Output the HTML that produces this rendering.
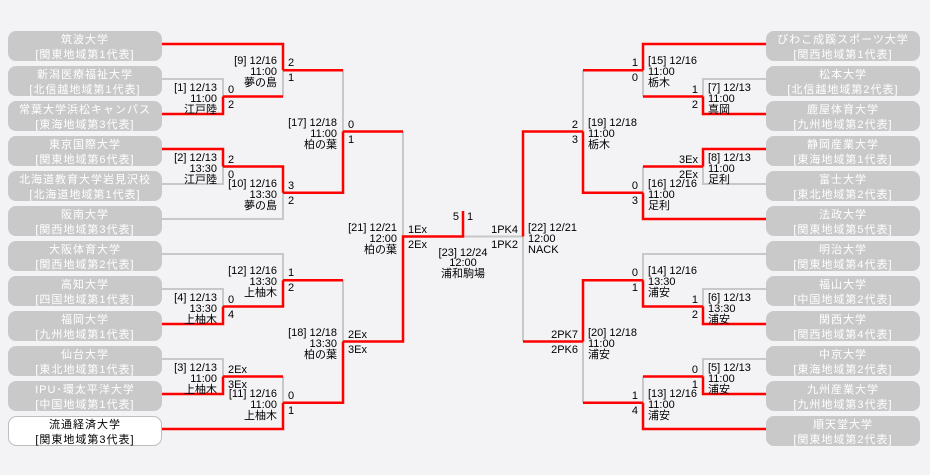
<!DOCTYPE html>
<html><head><meta charset="utf-8"><style>
html,body{margin:0;padding:0;background:#f3f2f5;}
svg{display:block;font-family:"Liberation Sans","Noto Sans CJK JP",sans-serif;font-size:11px;}
.g{stroke:#c8c8c8;stroke-width:2;fill:none}
.r{stroke:#ff0000;stroke-width:2.5;fill:none}
.bx{fill:#c9c9c9}
.bt{fill:#ffffff;text-anchor:middle;letter-spacing:1px}
.wb{fill:#ffffff;stroke:#bdbdbd;stroke-width:1}
.wt{fill:#000;text-anchor:middle;letter-spacing:1px}
.e{text-anchor:end}
.m{text-anchor:middle}
</style></head><body>
<svg width="930" height="475" viewBox="0 0 930 475">
<rect width="930" height="475" fill="#f3f2f5"/>
<path class="g" d="
M162 79H223V96.5 M162 184H223V166.5 M283 96.5V70.25 M162 219H283V192.75 M343 70.25V131.5
M162 289H223V306.5 M162 254H283V280.25 M162 359H223V376.5 M283 376.5V402.75 M343 280.25V341.5
M403 131.5V236.5 M463 236.5H523
M766 79H703V96.5 M766 184H703V166.5 M643 96.5V70.25 M643 166.5V192.75 M583 70.25V131.5
M766 289H703V306.5 M766 254H643V280.25 M766 359H703V376.5 M643 376.5V402.75 M583 402.75V341.5 M523 341.5V236.5"/>
<path class="r" d="
M162 114H223V96.5 M162 44H283V70.25 M223 96.5H283 M162 149H223V166.5 M223 166.5H283V192.75
M283 70.25H343 M283 192.75H343V131.5
M162 324H223V306.5 M223 306.5H283V280.25 M162 394H223V376.5 M223 376.5H283 M162 429H283V402.75
M283 280.25H343 M283 402.75H343V341.5 M343 131.5H403 M343 341.5H403V236.5H463V211
M766 114H703V96.5 M766 44H643V70.25 M703 96.5H643 M766 149H703V166.5 M703 166.5H643 M766 219H643V192.75
M643 70.25H583 M643 192.75H583V131.5
M766 324H703V306.5 M703 306.5H643V280.25 M766 394H703V376.5 M703 376.5H643 M766 429H643V402.75
M643 280.25H583V341.5 M643 402.75H583 M583 131.5H523V236.5 M583 341.5H523"/>

<g>
<rect class="bx" x="8" y="31" width="154" height="30" rx="8"/><text class="bt" x="85" y="43">筑波大学</text><text class="bt" x="85" y="58">[関東地域第1代表]</text>
<rect class="bx" x="8" y="66" width="154" height="30" rx="8"/><text class="bt" x="85" y="78">新潟医療福祉大学</text><text class="bt" x="85" y="93">[北信越地域第1代表]</text>
<rect class="bx" x="8" y="101" width="154" height="30" rx="8"/><text class="bt" x="85" y="113">常葉大学浜松キャンパス</text><text class="bt" x="85" y="128">[東海地域第3代表]</text>
<rect class="bx" x="8" y="136" width="154" height="30" rx="8"/><text class="bt" x="85" y="148">東京国際大学</text><text class="bt" x="85" y="163">[関東地域第6代表]</text>
<rect class="bx" x="8" y="171" width="154" height="30" rx="8"/><text class="bt" x="85" y="183">北海道教育大学岩見沢校</text><text class="bt" x="85" y="198">[北海道地域第1代表]</text>
<rect class="bx" x="8" y="206" width="154" height="30" rx="8"/><text class="bt" x="85" y="218">阪南大学</text><text class="bt" x="85" y="233">[関西地域第3代表]</text>
<rect class="bx" x="8" y="241" width="154" height="30" rx="8"/><text class="bt" x="85" y="253">大阪体育大学</text><text class="bt" x="85" y="268">[関西地域第2代表]</text>
<rect class="bx" x="8" y="276" width="154" height="30" rx="8"/><text class="bt" x="85" y="288">高知大学</text><text class="bt" x="85" y="303">[四国地域第1代表]</text>
<rect class="bx" x="8" y="311" width="154" height="30" rx="8"/><text class="bt" x="85" y="323">福岡大学</text><text class="bt" x="85" y="338">[九州地域第1代表]</text>
<rect class="bx" x="8" y="346" width="154" height="30" rx="8"/><text class="bt" x="85" y="358">仙台大学</text><text class="bt" x="85" y="373">[東北地域第1代表]</text>
<rect class="bx" x="8" y="381" width="154" height="30" rx="8"/><text class="bt" x="85" y="393">IPU･環太平洋大学</text><text class="bt" x="85" y="408">[中国地域第1代表]</text>
<rect class="wb" x="8.5" y="416.5" width="153" height="29" rx="8"/><text class="wt" x="85" y="428">流通経済大学</text><text class="wt" x="85" y="443">[関東地域第3代表]</text>
</g>
<g>
<rect class="bx" x="766" y="31" width="154" height="30" rx="8"/><text class="bt" x="843" y="43">びわこ成蹊スポーツ大学</text><text class="bt" x="843" y="58">[関西地域第1代表]</text>
<rect class="bx" x="766" y="66" width="154" height="30" rx="8"/><text class="bt" x="843" y="78">松本大学</text><text class="bt" x="843" y="93">[北信越地域第2代表]</text>
<rect class="bx" x="766" y="101" width="154" height="30" rx="8"/><text class="bt" x="843" y="113">鹿屋体育大学</text><text class="bt" x="843" y="128">[九州地域第2代表]</text>
<rect class="bx" x="766" y="136" width="154" height="30" rx="8"/><text class="bt" x="843" y="148">静岡産業大学</text><text class="bt" x="843" y="163">[東海地域第1代表]</text>
<rect class="bx" x="766" y="171" width="154" height="30" rx="8"/><text class="bt" x="843" y="183">富士大学</text><text class="bt" x="843" y="198">[東北地域第2代表]</text>
<rect class="bx" x="766" y="206" width="154" height="30" rx="8"/><text class="bt" x="843" y="218">法政大学</text><text class="bt" x="843" y="233">[関東地域第5代表]</text>
<rect class="bx" x="766" y="241" width="154" height="30" rx="8"/><text class="bt" x="843" y="253">明治大学</text><text class="bt" x="843" y="268">[関東地域第4代表]</text>
<rect class="bx" x="766" y="276" width="154" height="30" rx="8"/><text class="bt" x="843" y="288">福山大学</text><text class="bt" x="843" y="303">[中国地域第2代表]</text>
<rect class="bx" x="766" y="311" width="154" height="30" rx="8"/><text class="bt" x="843" y="323">関西大学</text><text class="bt" x="843" y="338">[関西地域第4代表]</text>
<rect class="bx" x="766" y="346" width="154" height="30" rx="8"/><text class="bt" x="843" y="358">中京大学</text><text class="bt" x="843" y="373">[東海地域第2代表]</text>
<rect class="bx" x="766" y="381" width="154" height="30" rx="8"/><text class="bt" x="843" y="393">九州産業大学</text><text class="bt" x="843" y="408">[九州地域第3代表]</text>
<rect class="bx" x="766" y="416" width="154" height="30" rx="8"/><text class="bt" x="843" y="428">順天堂大学</text><text class="bt" x="843" y="443">[関東地域第2代表]</text>
</g>

<g>
<text class="e" x="217" y="91">[1] 12/13</text><text class="e" x="217" y="102">11:00</text><text class="e" x="217" y="113">江戸陸</text>
<text x="228" y="93">0</text><text x="228" y="108">2</text>
<text class="e" x="277" y="64">[9] 12/16</text><text class="e" x="277" y="75">11:00</text><text class="e" x="277" y="86">夢の島</text>
<text x="288" y="66">2</text><text x="288" y="81">1</text>
<text class="e" x="217" y="161">[2] 12/13</text><text class="e" x="217" y="172">13:30</text><text class="e" x="217" y="183">江戸陸</text>
<text x="228" y="163">2</text><text x="228" y="178">0</text>
<text class="e" x="277" y="187">[10] 12/16</text><text class="e" x="277" y="198">13:30</text><text class="e" x="277" y="209">夢の島</text>
<text x="288" y="189">3</text><text x="288" y="204">2</text>
<text class="e" x="337" y="126">[17] 12/18</text><text class="e" x="337" y="137">11:00</text><text class="e" x="337" y="148">柏の葉</text>
<text x="348" y="128">0</text><text x="348" y="143">1</text>
<text class="e" x="217" y="301">[4] 12/13</text><text class="e" x="217" y="312">13:30</text><text class="e" x="217" y="323">上柚木</text>
<text x="228" y="303">0</text><text x="228" y="318">4</text>
<text class="e" x="277" y="274">[12] 12/16</text><text class="e" x="277" y="285">13:30</text><text class="e" x="277" y="296">上柚木</text>
<text x="288" y="276">1</text><text x="288" y="291">2</text>
<text class="e" x="217" y="371">[3] 12/13</text><text class="e" x="217" y="382">11:00</text><text class="e" x="217" y="393">上柚木</text>
<text x="228" y="373">2Ex</text><text x="228" y="388">3Ex</text>
<text class="e" x="277" y="397">[11] 12/16</text><text class="e" x="277" y="408">11:00</text><text class="e" x="277" y="419">上柚木</text>
<text x="288" y="399">0</text><text x="288" y="414">1</text>
<text class="e" x="337" y="336">[18] 12/18</text><text class="e" x="337" y="347">13:30</text><text class="e" x="337" y="358">柏の葉</text>
<text x="348" y="338">2Ex</text><text x="348" y="353">3Ex</text>
<text class="e" x="397" y="231">[21] 12/21</text><text class="e" x="397" y="242">12:00</text><text class="e" x="397" y="253">柏の葉</text>
<text x="408" y="233">1Ex</text><text x="408" y="248">2Ex</text>
</g>
<text class="e" x="459" y="220">5</text><text x="467" y="220">1</text>
<text class="m" x="463" y="256">[23] 12/24</text><text class="m" x="463" y="266">12:00</text><text class="m" x="463" y="277">浦和駒場</text>
<g>
<text x="708" y="91">[7] 12/13</text><text x="708" y="102">11:00</text><text x="708" y="113">真岡</text>
<text class="e" x="698" y="93">1</text><text class="e" x="698" y="108">2</text>
<text x="648" y="64">[15] 12/16</text><text x="648" y="75">11:00</text><text x="648" y="86">栃木</text>
<text class="e" x="638" y="66">1</text><text class="e" x="638" y="81">0</text>
<text x="708" y="161">[8] 12/13</text><text x="708" y="172">11:00</text><text x="708" y="183">足利</text>
<text class="e" x="698" y="163">3Ex</text><text class="e" x="698" y="178">2Ex</text>
<text x="648" y="187">[16] 12/16</text><text x="648" y="198">11:00</text><text x="648" y="209">足利</text>
<text class="e" x="638" y="189">0</text><text class="e" x="638" y="204">3</text>
<text x="588" y="126">[19] 12/18</text><text x="588" y="137">11:00</text><text x="588" y="148">栃木</text>
<text class="e" x="578" y="128">2</text><text class="e" x="578" y="143">3</text>
<text x="708" y="301">[6] 12/13</text><text x="708" y="312">13:30</text><text x="708" y="323">浦安</text>
<text class="e" x="698" y="303">1</text><text class="e" x="698" y="318">2</text>
<text x="648" y="274">[14] 12/16</text><text x="648" y="285">13:30</text><text x="648" y="296">浦安</text>
<text class="e" x="638" y="276">0</text><text class="e" x="638" y="291">1</text>
<text x="708" y="371">[5] 12/13</text><text x="708" y="382">11:00</text><text x="708" y="393">浦安</text>
<text class="e" x="698" y="373">0</text><text class="e" x="698" y="388">1</text>
<text x="648" y="397">[13] 12/16</text><text x="648" y="408">11:00</text><text x="648" y="419">浦安</text>
<text class="e" x="638" y="399">1</text><text class="e" x="638" y="414">4</text>
<text x="588" y="336">[20] 12/18</text><text x="588" y="347">11:00</text><text x="588" y="358">浦安</text>
<text class="e" x="578" y="338">2PK7</text><text class="e" x="578" y="353">2PK6</text>
<text x="528" y="231">[22] 12/21</text><text x="528" y="242">12:00</text><text x="528" y="253">NACK</text>
<text class="e" x="518" y="233">1PK4</text><text class="e" x="518" y="248">1PK2</text>
</g>
</svg>
</body></html>
